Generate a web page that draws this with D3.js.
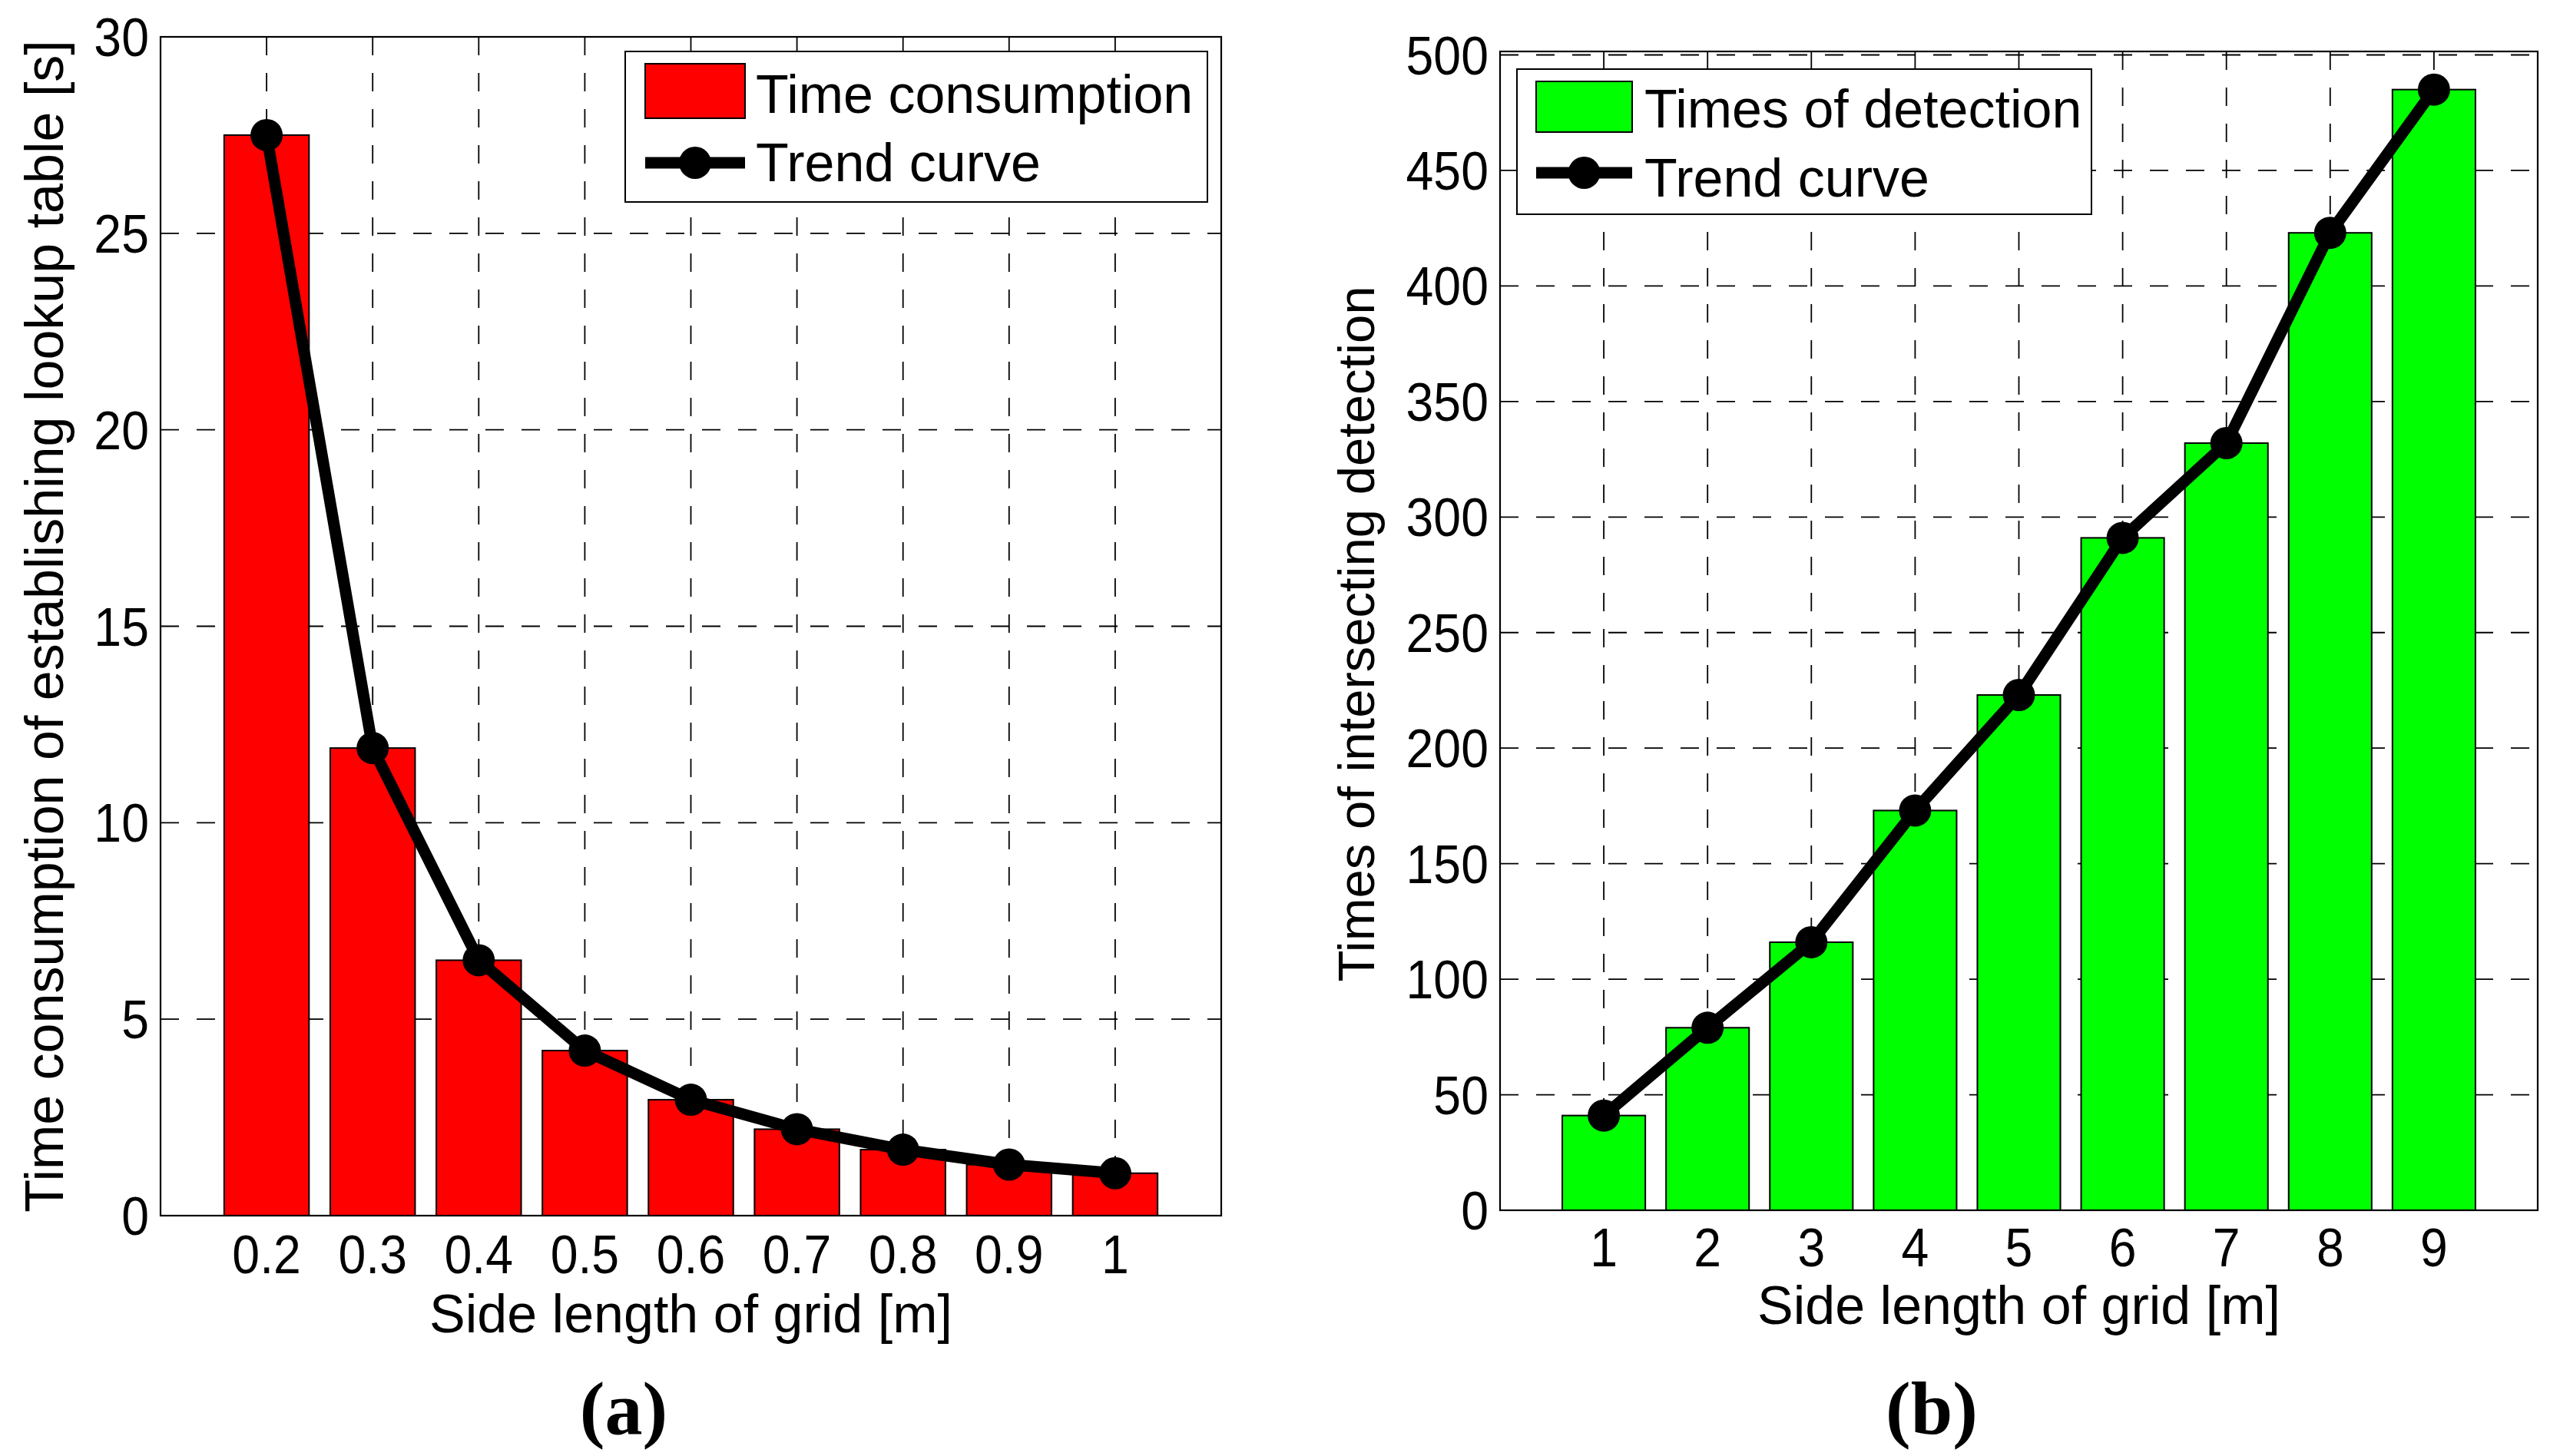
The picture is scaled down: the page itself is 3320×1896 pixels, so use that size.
<!DOCTYPE html>
<html><head><meta charset="utf-8">
<script src="https://cdn.jsdelivr.net/npm/d3@7"></script>
<style>html,body{margin:0;padding:0;background:#fff;} svg{display:block;}</style>
</head><body><svg id="c" width="3320" height="1896"></svg>
<script>
// ---------- data (panel a) ----------
const gridSizesA = [0.2, 0.3, 0.4, 0.5, 0.6, 0.7, 0.8, 0.9, 1.0];
const timeConsumption = [27.5, 11.9, 6.5, 4.2, 2.95, 2.2, 1.68, 1.3, 1.08];
const trendA = [27.5, 11.9, 6.5, 4.2, 2.95, 2.2, 1.68, 1.3, 1.08];
const xTickLabelsA = ["0.2", "0.3", "0.4", "0.5", "0.6", "0.7", "0.8", "0.9", "1"];
const yTicksA = [0, 5, 10, 15, 20, 25, 30];
// ---------- data (panel b) ----------
const gridSizesB = [1, 2, 3, 4, 5, 6, 7, 8, 9];
const detectionTimes = [41, 79, 116, 173, 223, 291, 332, 423, 485];
const trendB = [41, 79, 116, 173, 223, 291, 332, 423, 485];
const xTickLabelsB = ["1", "2", "3", "4", "5", "6", "7", "8", "9"];
const yTicksB = [0, 50, 100, 150, 200, 250, 300, 350, 400, 450, 500];

const svg = d3.select("#c");
svg.append("rect").attr("width", 3320).attr("height", 1896).attr("fill", "#fff");
const SANS = "'Liberation Sans', Arial, Helvetica, sans-serif";
const SERIF = "'Liberation Serif', 'Times New Roman', serif";

function drawPanel(cfg) {
  const g = svg.append("g");
  const xs = d3.scaleLinear().domain(cfg.xDomain).range([cfg.x0, cfg.x1]);
  const ys = d3.scaleLinear().domain(cfg.yDomain).range([cfg.y1, cfg.y0]);

  // grid
  g.selectAll(".vg").data(cfg.xs).enter().append("line")
    .attr("x1", d => xs(d)).attr("x2", d => xs(d))
    .attr("y1", cfg.y0).attr("y2", cfg.y1)
    .attr("stroke", "#000").attr("stroke-width", 1.8).attr("stroke-dasharray", "24 23");
  g.selectAll(".hg").data(cfg.yTicks.filter(d => d > 0)).enter().append("line")
    .attr("x1", cfg.x0).attr("x2", cfg.x1)
    .attr("y1", d => ys(d)).attr("y2", d => ys(d))
    .attr("stroke", "#000").attr("stroke-width", 1.8).attr("stroke-dasharray", "24 23");

  // bars
  const bw = cfg.barWidth;
  g.selectAll(".bar").data(cfg.values).enter().append("rect")
    .attr("x", (d, i) => xs(cfg.xs[i] - bw / 2))
    .attr("width", xs(cfg.xDomain[0] + bw) - xs(cfg.xDomain[0]))
    .attr("y", d => ys(d))
    .attr("height", d => ys(0) - ys(d))
    .attr("fill", cfg.color).attr("stroke", "#000").attr("stroke-width", 2);

  // trend curve
  const line = d3.line().x((d, i) => xs(cfg.xs[i])).y(d => ys(d)).curve(cfg.curve);
  g.append("path").datum(cfg.trend).attr("d", line)
    .attr("fill", "none").attr("stroke", "#000").attr("stroke-width", 15)
    .attr("stroke-linejoin", "round");
  g.selectAll(".mk").data(cfg.trend).enter().append("circle")
    .attr("cx", (d, i) => xs(cfg.xs[i])).attr("cy", d => ys(d)).attr("r", 21).attr("fill", "#000");

  // box
  g.append("rect").attr("x", cfg.x0).attr("y", cfg.y0)
    .attr("width", cfg.x1 - cfg.x0).attr("height", cfg.y1 - cfg.y0)
    .attr("fill", "none").attr("stroke", "#000").attr("stroke-width", 2.2);

  // tick labels
  g.selectAll(".yt").data(cfg.yTicks).enter().append("text")
    .attr("transform", d => `translate(${cfg.x0 - 15},${ys(d) + 25}) scale(0.92,1)`)
    .attr("text-anchor", "end").attr("font-family", SANS).attr("font-size", 70)
    .text(d => d);
  g.selectAll(".xt").data(cfg.xLabels).enter().append("text")
    .attr("transform", (d, i) => `translate(${xs(cfg.xs[i])},${cfg.y1 + cfg.xTickOff}) scale(0.92,1)`)
    .attr("text-anchor", "middle").attr("font-family", SANS).attr("font-size", 70)
    .text(d => d);

  // axis labels
  g.append("text").attr("x", (cfg.x0 + cfg.x1) / 2).attr("y", cfg.xLabelY)
    .attr("text-anchor", "middle").attr("font-family", SANS).attr("font-size", 70)
    .text(cfg.xLabel);
  g.append("text")
    .attr("transform", `translate(${cfg.yLabelX},${(cfg.y0 + cfg.y1) / 2 + cfg.yLabelShift}) rotate(-90)`)
    .attr("text-anchor", "middle").attr("font-family", SANS).attr("font-size", cfg.yLabelSize)
    .text(cfg.yLabel);

  // legend
  const L = cfg.legend;
  g.append("rect").attr("x", L.x).attr("y", L.y).attr("width", L.w).attr("height", L.h)
    .attr("fill", "#fff").attr("stroke", "#000").attr("stroke-width", 2);
  g.append("rect").attr("x", L.sx).attr("y", L.sy).attr("width", L.sw).attr("height", L.sh)
    .attr("fill", cfg.color).attr("stroke", "#000").attr("stroke-width", 2);
  g.append("text").attr("x", L.tx).attr("y", L.t1).attr("font-family", SANS).attr("font-size", 70)
    .text(cfg.barName);
  g.append("line").attr("x1", L.sx).attr("x2", L.sx + L.sw).attr("y1", L.ly).attr("y2", L.ly)
    .attr("stroke", "#000").attr("stroke-width", 15);
  g.append("circle").attr("cx", L.sx + L.sw / 2).attr("cy", L.ly).attr("r", 21).attr("fill", "#000");
  g.append("text").attr("x", L.tx).attr("y", L.t2).attr("font-family", SANS).attr("font-size", 70)
    .text("Trend curve");

  // panel caption
  g.append("text").attr("x", cfg.capX).attr("y", 1867).attr("text-anchor", "middle")
    .attr("font-family", SERIF).attr("font-weight", "bold").attr("font-size", 98)
    .text(cfg.caption);
}

drawPanel({
  x0: 209, x1: 1590, y0: 48, y1: 1583,
  xDomain: [0.1, 1.1], yDomain: [0, 30],
  xs: gridSizesA, values: timeConsumption, trend: trendA,
  xLabels: xTickLabelsA, yTicks: yTicksA, barWidth: 0.08,
  color: "#ff0000", curve: d3.curveLinear,
  xTickOff: 75, xLabelY: 1735, yLabelX: 82, yLabelSize: 70, yLabelShift: 0,
  xLabel: "Side length of grid [m]",
  yLabel: "Time consumption of establishing lookup table [s]",
  barName: "Time consumption",
  legend: {x: 814, y: 67, w: 758, h: 196, sx: 840, sy: 83, sw: 130, sh: 71, tx: 984, t1: 147, ly: 212, t2: 236},
  capX: 812, caption: "(a)"
});

drawPanel({
  x0: 1953, x1: 3304, y0: 67, y1: 1576,
  xDomain: [0, 10], yDomain: [0, 501.5],
  xs: gridSizesB, values: detectionTimes, trend: trendB,
  xLabels: xTickLabelsB, yTicks: yTicksB, barWidth: 0.8,
  color: "#00ff00", curve: d3.curveLinear,
  xTickOff: 73, xLabelY: 1724, yLabelX: 1789, yLabelSize: 67, yLabelShift: 4,
  xLabel: "Side length of grid [m]",
  yLabel: "Times of intersecting detection",
  barName: "Times of detection",
  legend: {x: 1975, y: 90, w: 748, h: 189, sx: 2000, sy: 106, sw: 125, sh: 66, tx: 2141, t1: 166, ly: 225, t2: 256},
  capX: 2515, caption: "(b)"
});
</script></body></html>
